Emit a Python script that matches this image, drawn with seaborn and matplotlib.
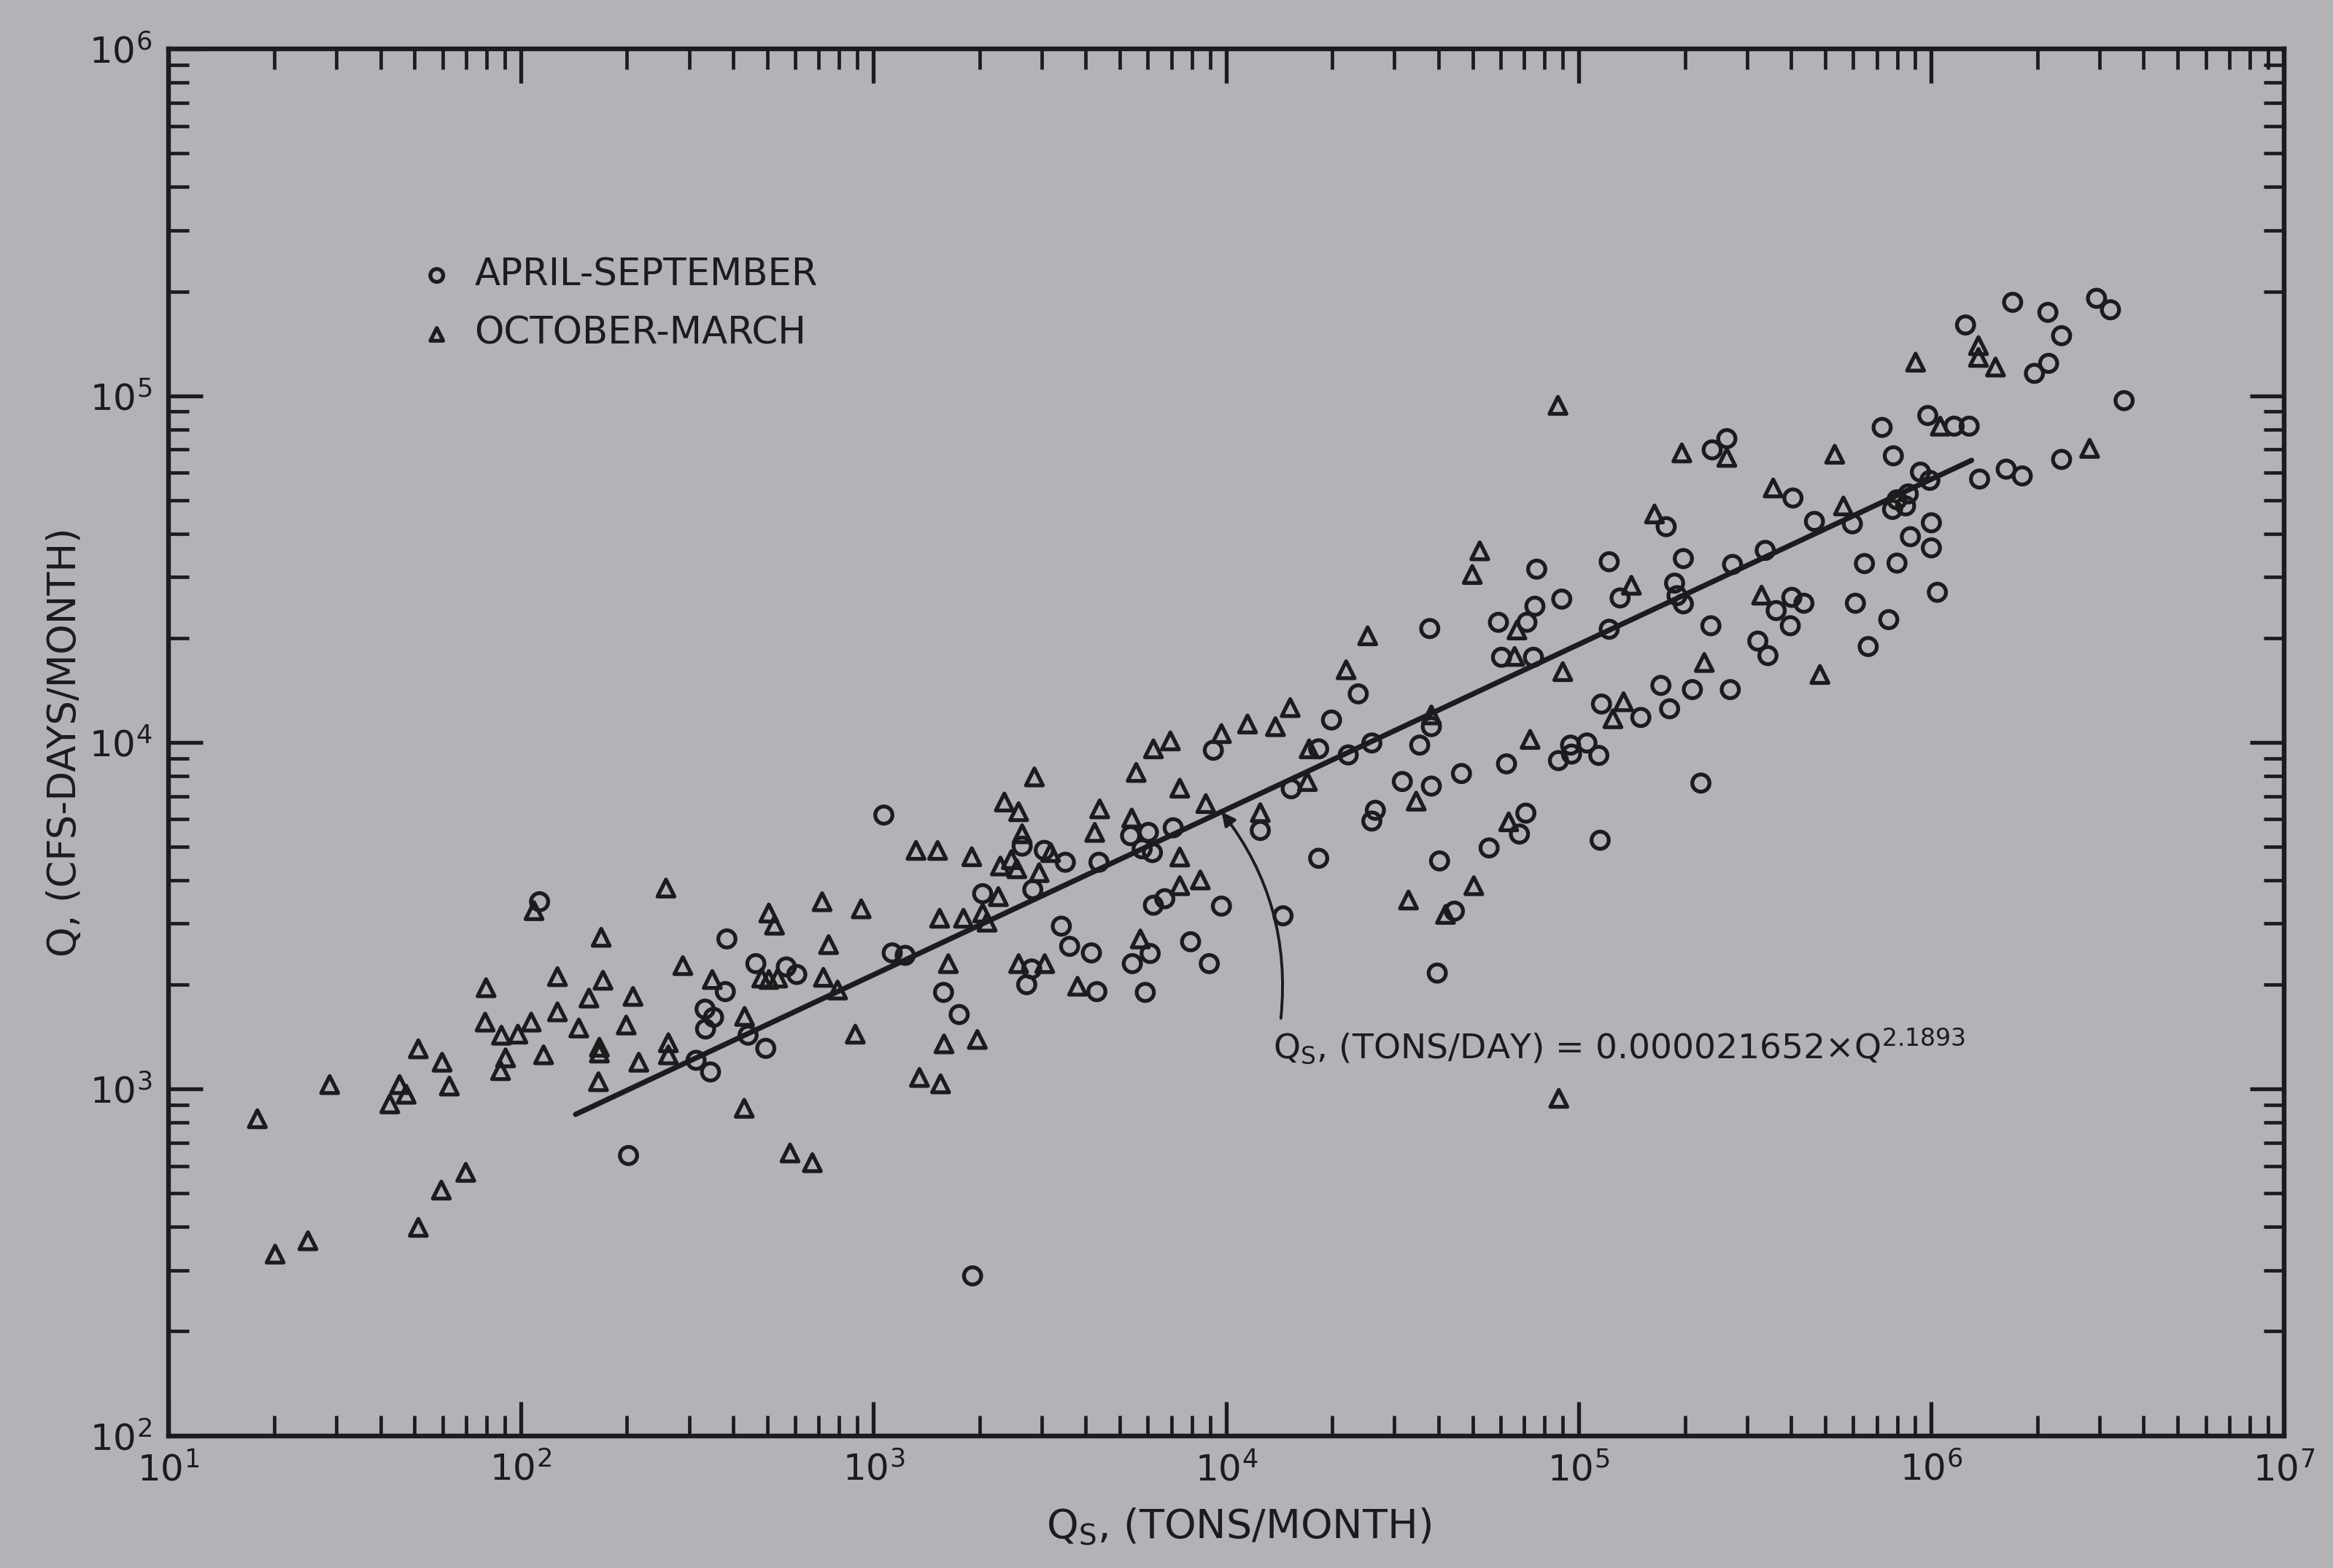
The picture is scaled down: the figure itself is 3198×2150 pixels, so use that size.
import matplotlib
matplotlib.use("Agg")
import numpy as np
import matplotlib.pyplot as plt
import seaborn as sns
from matplotlib.patches import FancyArrowPatch
from matplotlib.ticker import LogLocator, NullFormatter

# values
# October-March (triangles): Qs (tons/month), Q (cfs-days/month)
oct_mar_qs = [17.9, 20.1, 24.9, 28.7, 42.5, 45.3, 47.3, 51.2, 59.8, 62.7,
              51.2, 59.5, 69.8, 79.7, 79.2, 88.1, 87.6, 90.5, 98.1, 107,
              116, 127, 127, 146, 156, 171, 167, 167, 166, 169,
              199, 208, 216, 109, 258, 262, 262, 288, 349, 431,
              430, 580, 671, 482, 505, 535, 721, 791, 505, 524,
              715, 923, 746, 888, 1350, 1550, 1585, 1970, 1630, 1320,
              1520, 1900, 1540, 1800, 2040, 2100, 2260, 2290, 2460, 2550,
              2950, 2640, 2350, 2580, 2860, 3180, 2580, 3060, 3790, 4380,
              4240, 5400, 5560, 6220, 5710, 52400, 49900, 66800, 25200, 65800,
              90100, 21900, 15200, 11500, 13800, 9700, 6950, 17200, 38200, 72800,
              34600, 17000, 7390, 8760, 12500, 63300, 7390, 8450, 7390, 50400,
              32900, 41900, 87300, 87800, 1.36e6, 1.36e6, 1.52e6, 9.02e5, 1.06e6, 2.81e6,
              196000, 263000, 532000, 356000, 563000, 164000, 141000, 330000, 227000, 483000,
              134000, 125000]
oct_mar_q = [821, 334, 365, 1030, 906, 1030, 966, 1306, 1195, 1020,
             399, 511, 575, 1960, 1560, 1430, 1130, 1230, 1440, 1560,
             1255, 2110, 1670, 1500, 1830, 2060, 1320, 1270, 1050, 2740,
             1530, 1850, 1195, 3270, 3800, 1360, 1255, 2270, 2070, 1620,
             880, 654, 613, 2090, 2070, 2090, 2100, 1930, 3220, 2970,
             3470, 3310, 2610, 1440, 1080, 1035, 1350, 1390, 2300, 4880,
             4880, 4680, 3110, 3110, 3220, 3030, 3590, 4400, 4590, 4320,
             4210, 5450, 6730, 6310, 7950, 4810, 2300, 2300, 1980, 6430,
             5500, 6050, 8190, 9580, 2710, 35700, 30500, 21100, 20300, 17700,
             16000, 16200, 12600, 11300, 11100, 10600, 10100, 9580, 12000, 10200,
             6770, 7710, 7380, 6660, 6270, 5900, 4670, 4010, 3860, 3860,
             3510, 3190, 93800, 940, 139500, 129000, 121000, 125000, 81700, 70500,
             68400, 66400, 67800, 54200, 48100, 45600, 28400, 26600, 17000, 15700,
             13100, 11700]

# April-September (circles)
apr_sep_qs = [113, 202, 314, 345, 333, 352, 334, 380, 384, 441,
              495, 464, 566, 606, 1070, 1130, 1230, 1580, 1750, 1910,
              2640, 3050, 3500, 2040, 2830, 3410, 3600, 4150, 2810, 2720,
              4300, 5420, 5900, 4360, 5360, 6020, 5780, 6180, 6090, 6220,
              6700, 76000, 89500, 75100, 59200, 71300, 37800, 60400, 74400, 23700,
              116000, 19900, 9200, 18300, 22200, 25900, 38200, 35400, 94800, 95400,
              87600, 105500, 114000, 62400, 46500, 31600, 38200, 15300, 7080, 12500,
              26500, 25900, 70800, 67900, 115000, 55700, 18300, 40300, 9700, 14500,
              44400, 7930, 8960, 39700, 222000, 1.70e6, 2.14e6, 2.94e6, 3.22e6, 2.34e6,
              1.25e6, 1.96e6, 2.15e6, 3.52e6, 725000, 977000, 1.16e6, 1.28e6, 780000, 2.34e6,
              1.63e6, 1.81e6, 1.37e6, 931000, 990000, 860000, 799000, 845000, 776000, 239000,
              263000, 405000, 466000, 597000, 177000, 1.0e6, 872000, 1.0e6, 122000, 198000,
              273000, 338000, 646000, 799000, 131000, 187000, 190000, 198000, 122000, 402000,
              435000, 363000, 609000, 1.04e6, 757000, 237000, 398000, 322000, 344000, 662000,
              171000, 210000, 269000, 181000, 150000]
apr_sep_q = [3470, 643, 1210, 1120, 1700, 1610, 1490, 1910, 2710, 1430,
             1310, 2300, 2250, 2140, 6170, 2470, 2430, 1900, 1640, 289,
             5020, 4880, 4510, 3660, 3760, 2950, 2580, 2470, 2220, 2000,
             1910, 2300, 1900, 4510, 5380, 5500, 4930, 4810, 2460, 3390,
             3540, 31600, 25900, 24700, 22200, 22200, 21300, 17600, 17600, 13800,
             12900, 11600, 9490, 9580, 9200, 9960, 11100, 9820, 9820, 9250,
             8860, 9960, 9170, 8670, 8130, 7710, 7480, 7350, 5670, 5570,
             6370, 5930, 6250, 5440, 5220, 4960, 4630, 4550, 3370, 3160,
             3260, 2660, 2300, 2160, 7630, 186000, 174000, 191000, 177000, 149000,
             160000, 116000, 124000, 96800, 81000, 87700, 81700, 81700, 67100, 65500,
             61400, 58700, 57500, 60200, 57000, 52100, 50100, 48100, 47000, 69800,
             75200, 50700, 43400, 42700, 41900, 43000, 39200, 36400, 33200, 33900,
             32600, 35800, 32800, 32900, 26100, 28800, 26500, 25100, 21200, 26200,
             25200, 24000, 25200, 27100, 22600, 21700, 21700, 19600, 17800, 18900,
             14600, 14200, 14200, 12500, 11800]

# fitted line, end points as drawn
fit_qs = [143, 1.30e6]
fit_q = [845, 65100]

paper = "#b3b3b7"
ink = "#1c1c1e"

sns.set_style("ticks")
plt.rcParams["font.family"] = ["DejaVu Sans"]
plt.rcParams["mathtext.default"] = "regular"

fig = plt.figure(figsize=(15.99, 10.75), dpi=200, facecolor=paper)
ax = fig.add_axes([0.0721, 0.0844, 0.9069, 0.8843])
ax.set_facecolor(paper)
ax.set_xscale("log")
ax.set_yscale("log")

sns.lineplot(x=fit_qs, y=fit_q, ax=ax, color=ink, linewidth=2.6)
sns.scatterplot(x=apr_sep_qs, y=apr_sep_q, ax=ax, marker="o", s=72,
                facecolors="none", edgecolor=ink, linewidth=1.9,
                label="APRIL-SEPTEMBER")
sns.scatterplot(x=oct_mar_qs, y=oct_mar_q, ax=ax, marker="^", s=70,
                facecolors="none", edgecolor=ink, linewidth=1.9,
                label="OCTOBER-MARCH")

ax.set_xlim(1e1, 1e7)
ax.set_ylim(1e2, 1e6)

for axis in (ax.xaxis, ax.yaxis):
    axis.set_major_locator(LogLocator(base=10, numticks=12))
    axis.set_minor_locator(LogLocator(base=10, subs=np.arange(2, 10), numticks=12))
    axis.set_minor_formatter(NullFormatter())

ax.tick_params(which="both", direction="in", top=True, right=True,
               colors=ink, labelsize=18, pad=8)
ax.tick_params(which="major", length=17, width=1.9)
ax.tick_params(which="minor", length=10, width=1.7)
for sp in ax.spines.values():
    sp.set_linewidth(2.3)
    sp.set_color(ink)

ax.set_xlabel(r"Q$_S$, (TONS/MONTH)", fontsize=20, color=ink)
ax.set_ylabel("Q, (CFS-DAYS/MONTH)", fontsize=19, color=ink)
ax.xaxis.label.set_va("center")
ax.yaxis.label.set_va("center")
ax.xaxis.set_label_coords(0.506, -0.066)
ax.yaxis.set_label_coords(-0.049, 0.50)

# equation and its leader curve
ax.add_patch(FancyArrowPatch(posA=(14300, 1600), posB=(9710, 6300),
                             arrowstyle="-|>", connectionstyle="arc3,rad=0.2",
                             mutation_scale=14, color=ink, lw=1.4,
                             shrinkA=0, shrinkB=0))
ax.text(13600, 1330, r"Q$_S$, (TONS/DAY) = 0.000021652$\times$Q$^{2.1893}$",
        fontsize=17, color=ink, ha="left", va="center")

leg = ax.legend(loc="upper left", bbox_to_anchor=(0.111, 0.861), frameon=False,
                fontsize=18.5, handletextpad=0.5, labelspacing=0.6,
                markerscale=0.75, handlelength=1.0, borderaxespad=0)
for t in leg.get_texts():
    t.set_color(ink)

fig.savefig("out.png", dpi=200, facecolor=paper)
